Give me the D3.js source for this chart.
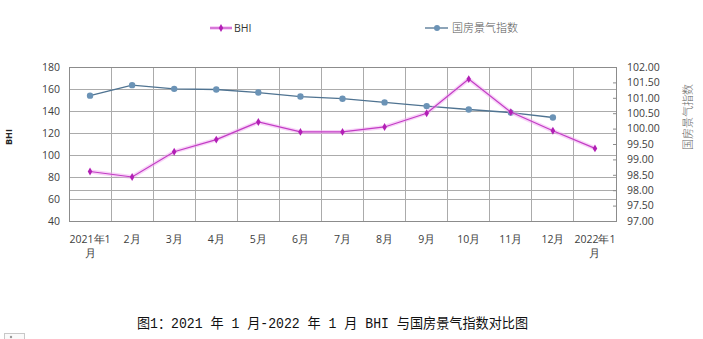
<!DOCTYPE html>
<html>
<head>
<meta charset="utf-8">
<script src="https://cdn.jsdelivr.net/npm/d3@7"></script>
<style>
  html, body { margin: 0; padding: 0; background: #fff; }
  svg { display: block; }
</style>
</head>
<body>
<svg id="chart" width="703" height="339"></svg>
<script>
// Months on the x axis
const months = ["2021年1月", "2月", "3月", "4月", "5月", "6月", "7月", "8月", "9月", "10月", "11月", "12月", "2022年1月"];
// BHI (left axis)
const bhiValues = [85, 80, 103, 114, 130, 121, 121, 125.5, 138, 169, 139, 122, 106];
// National real-estate climate index (right axis), no value yet for 2022-01
const climateValues = [101.07, 101.41, 101.29, 101.27, 101.17, 101.04, 100.97, 100.85, 100.73, 100.62, 100.52, 100.36, null];
// Axis ticks
const leftTicks = [40, 60, 80, 100, 120, 140, 160, 180];
const rightTicks = [97, 97.5, 98, 98.5, 99, 99.5, 100, 100.5, 101, 101.5, 102];

const svg = d3.select("#chart");
const plot = { left: 69, right: 616, top: 67, bottom: 221 };
const latin = "'Open Sans', 'Liberation Sans', sans-serif";
const cjk = "'Noto Sans CJK SC', sans-serif";

const x = d3.scaleBand().domain(months).range([plot.left, plot.right]);
const yL = d3.scaleLinear().domain([40, 180]).range([plot.bottom, plot.top]);
const yR = d3.scaleLinear().domain([97, 102]).range([plot.bottom, plot.top]);
const cx = d => x(d) + x.bandwidth() / 2;

// Gridlines
const grid = svg.append("g").attr("stroke", "#ababab").attr("stroke-width", 1).attr("shape-rendering", "crispEdges");
leftTicks.forEach(t => grid.append("line")
  .attr("x1", plot.left).attr("x2", plot.right).attr("y1", yL(t)).attr("y2", yL(t)));
grid.append("line").attr("x1", plot.left).attr("x2", plot.right).attr("y1", yR(98)).attr("y2", yR(98));
months.forEach(m => grid.append("line")
  .attr("x1", x(m)).attr("x2", x(m)).attr("y1", plot.top).attr("y2", plot.bottom));
grid.append("line").attr("x1", plot.right).attr("x2", plot.right).attr("y1", plot.top).attr("y2", plot.bottom);

// Plot frame
svg.append("rect")
  .attr("x", plot.left).attr("y", plot.top)
  .attr("width", plot.right - plot.left).attr("height", plot.bottom - plot.top)
  .attr("fill", "none").attr("stroke", "#8c8c8c").attr("shape-rendering", "crispEdges");

// Left axis
const leftAxis = svg.append("g")
  .attr("transform", `translate(${plot.left},0)`)
  .call(d3.axisLeft(yL).tickValues(leftTicks).tickSize(0).tickPadding(9).tickFormat(d3.format("d")));
leftAxis.select(".domain").remove();
leftAxis.selectAll("text").attr("font-family", latin).attr("font-size", 10.5).attr("fill", "#404040");

// Right axis
const rightAxis = svg.append("g")
  .attr("transform", `translate(${plot.right},0)`)
  .call(d3.axisRight(yR).tickValues(rightTicks).tickSizeInner(-3).tickSizeOuter(0).tickPadding(11).tickFormat(d3.format(".2f")));
rightAxis.select(".domain").remove();
rightAxis.selectAll("line").attr("stroke", "#8c8c8c");
rightAxis.selectAll("text").attr("font-family", latin).attr("font-size", 10.5).attr("fill", "#404040");

// Bottom axis labels (long labels wrap their last character)
const xLabels = svg.append("g").attr("font-family", latin).attr("font-size", 10.5).attr("fill", "#404040").attr("text-anchor", "middle");
months.forEach(m => {
  const t = xLabels.append("text").attr("x", cx(m)).attr("y", 243);
  if (m.length > 4) {
    t.append("tspan").attr("x", cx(m)).text(m.slice(0, -1));
    t.append("tspan").attr("x", cx(m)).attr("dy", 14).text(m.slice(-1));
  } else {
    t.text(m);
  }
});

// Axis titles
svg.append("text")
  .attr("transform", "translate(12,137) rotate(-90)")
  .attr("text-anchor", "middle")
  .attr("font-family", latin).attr("font-size", 9).attr("font-weight", "bold").attr("fill", "#222")
  .text("BHI");
svg.append("text")
  .attr("transform", "translate(692,117) rotate(-90)")
  .attr("text-anchor", "middle")
  .attr("font-family", cjk).attr("font-size", 11).attr("font-weight", 300).attr("fill", "#666")
  .text("国房景气指数");

// Series colours
const bhiColor = "#c23cc4";
const bhiGlow = "#f2a8f2";
const climateLine = "#4f7391";
const climateDot = "#6b93b6";

// National climate index series
const climatePts = months.map((m, i) => [m, climateValues[i]]).filter(d => d[1] != null);
svg.append("path")
  .datum(climatePts)
  .attr("fill", "none").attr("stroke", climateLine).attr("stroke-width", 1.3)
  .attr("d", d3.line().x(d => cx(d[0])).y(d => yR(d[1])));
svg.append("g").selectAll("circle").data(climatePts).join("circle")
  .attr("cx", d => cx(d[0])).attr("cy", d => yR(d[1])).attr("r", 3.2)
  .attr("fill", climateDot);

// BHI series with a soft glow
const bhiPts = months.map((m, i) => [m, bhiValues[i]]);
const bhiLine = d3.line().x(d => cx(d[0])).y(d => yL(d[1]));
svg.append("path").datum(bhiPts)
  .attr("fill", "none").attr("stroke", bhiGlow).attr("stroke-width", 4).attr("opacity", 0.5)
  .attr("stroke-linejoin", "round").attr("d", bhiLine);
svg.append("path").datum(bhiPts)
  .attr("fill", "none").attr("stroke", bhiColor).attr("stroke-width", 1.2).attr("d", bhiLine);
const diamond = d3.symbol().type(d3.symbolDiamond).size(18);
svg.append("g").selectAll("path").data(bhiPts).join("path")
  .attr("transform", d => `translate(${cx(d[0])},${yL(d[1])})`)
  .attr("d", diamond).attr("fill", "#b21fb5");

// Legend
const lg1 = svg.append("g").attr("transform", "translate(210,28)");
lg1.append("line").attr("x1", 0).attr("x2", 22).attr("stroke", bhiGlow).attr("stroke-width", 4).attr("opacity", 0.5);
lg1.append("line").attr("x1", 0).attr("x2", 22).attr("stroke", bhiColor).attr("stroke-width", 1.2);
lg1.append("path").attr("transform", "translate(11,0)").attr("d", diamond).attr("fill", "#b21fb5");
lg1.append("text").attr("x", 24).attr("y", 4).attr("font-family", latin).attr("font-size", 10.5).attr("fill", "#333").text("BHI");

const lg2 = svg.append("g").attr("transform", "translate(425,28)");
lg2.append("line").attr("x1", 0).attr("x2", 23).attr("stroke", climateLine).attr("stroke-width", 1.3);
lg2.append("circle").attr("cx", 12).attr("cy", 0).attr("r", 3).attr("fill", climateDot);
lg2.append("text").attr("x", 27).attr("y", 4).attr("font-family", cjk).attr("font-size", 11).attr("font-weight", 300).attr("fill", "#555").text("国房景气指数");

// Figure caption
svg.append("text")
  .attr("x", 137).attr("y", 328)
  .attr("font-family", "'Liberation Mono', 'Noto Sans CJK SC', monospace")
  .attr("font-size", 14).attr("fill", "#111")
  .attr("textLength", 391).attr("lengthAdjust", "spacingAndGlyphs")
  .text("图1：2021 年 1 月-2022 年 1 月 BHI 与国房景气指数对比图");

// Small placeholder box in the corner
svg.append("rect").attr("x", 4.5).attr("y", 333.5).attr("width", 20).attr("height", 8)
  .attr("fill", "#fafafa").attr("stroke", "#c8c8c8");
svg.append("circle").attr("cx", 11).attr("cy", 337).attr("r", 1.2).attr("fill", "#999");
</script>
</body>
</html>
